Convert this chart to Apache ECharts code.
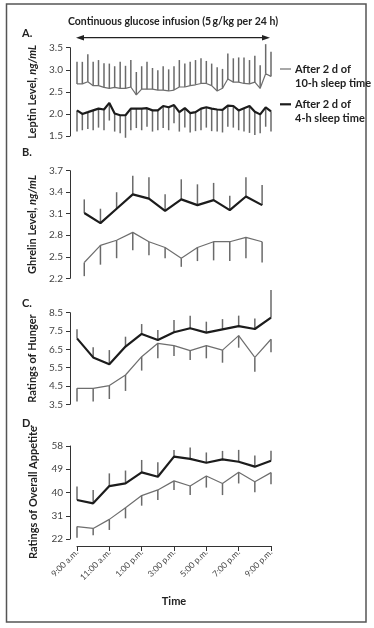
<!DOCTYPE html>
<html><head><meta charset="utf-8">
<script src="https://cdn.jsdelivr.net/npm/echarts@6/dist/echarts.min.js"></script>
<style>html,body{margin:0;padding:0;background:#fff}#c{width:374px;height:628px}</style>
</head><body><div id="c"></div>
<script>
const FONT = "Lato, 'Open Sans', sans-serif";

// ---- Panel A: leptin, sampled every 20 min ----
const hoursA = [9.00,9.33,9.67,10.00,10.33,10.67,11.00,11.33,11.67,12.00,12.33,12.67,13.00,13.33,13.67,14.00,14.33,14.67,15.00,15.33,15.67,16.00,16.33,16.67,17.00,17.33,17.67,18.00,18.33,18.67,19.00,19.33,19.67,20.00,20.33,20.67,21.00];
const leptin10 = [2.68,2.68,2.73,2.64,2.64,2.60,2.58,2.60,2.58,2.58,2.61,2.43,2.56,2.56,2.56,2.54,2.54,2.52,2.54,2.61,2.61,2.64,2.66,2.69,2.69,2.64,2.52,2.58,2.79,2.72,2.72,2.69,2.68,2.72,2.58,2.91,2.85];
const leptin10Upper = [3.18,3.18,3.35,3.18,3.22,3.15,3.14,3.08,3.18,3.09,3.22,2.95,3.08,3.18,3.04,2.99,3.08,3.01,3.08,3.22,3.14,3.18,3.22,3.26,3.20,3.14,3.06,3.02,3.37,3.26,3.28,3.28,3.22,3.32,3.10,3.58,3.41];
const leptin4 = [2.08,2.00,2.04,2.08,2.12,2.10,2.25,2.01,1.97,1.97,2.12,2.12,2.12,2.13,2.08,2.08,2.18,2.15,2.20,2.04,2.13,2.02,2.04,2.12,2.15,2.12,2.10,2.09,2.19,2.18,2.08,2.13,2.18,2.05,1.99,2.15,2.06];
const leptin4Lower = [1.60,1.63,1.66,1.63,1.69,1.63,1.85,1.60,1.56,1.46,1.63,1.68,1.63,1.71,1.60,1.63,1.68,1.63,1.79,1.60,1.69,1.58,1.61,1.63,1.69,1.61,1.60,1.58,1.71,1.69,1.63,1.60,1.57,1.52,1.56,1.71,1.60];
const ticksA = [1.5,2.0,2.5,3.0,3.5];

// ---- Panel B: ghrelin, hourly (half-hour offset) ----
const hoursB = [9.45,10.45,11.45,12.45,13.45,14.45,15.45,16.45,17.45,18.45,19.45,20.45];
const ghrelin4 = [3.11,2.97,3.17,3.37,3.31,3.14,3.30,3.22,3.29,3.15,3.34,3.22];
const ghrelin4Upper = [3.30,3.17,3.40,3.63,3.61,3.37,3.58,3.51,3.53,3.35,3.61,3.50];
const ghrelin10 = [2.42,2.66,2.73,2.84,2.71,2.63,2.48,2.63,2.71,2.71,2.77,2.71];
const ghrelin10Lower = [2.23,2.39,2.48,2.59,2.52,2.48,2.36,2.44,2.45,2.44,2.48,2.42];
const ticksB = [2.2,2.5,2.8,3.1,3.4,3.7];

// ---- Panel C: hunger ratings, hourly ----
const hoursCD = [9,10,11,12,13,14,15,16,17,18,19,20,21];
const hunger4 = [7.10,6.06,5.68,6.65,7.34,7.01,7.43,7.65,7.41,7.59,7.77,7.61,8.23];
const hunger4Upper = [7.59,6.61,6.46,7.19,7.88,7.55,8.10,8.34,8.01,8.15,8.34,8.19,9.74];
const hunger10 = [4.37,4.37,4.52,5.10,6.10,6.83,6.70,6.43,6.70,6.46,7.25,6.06,7.05];
const hunger10Lower = [3.65,3.65,3.79,4.23,5.34,6.01,6.14,5.92,6.01,5.77,6.59,5.28,6.34];
const ticksC = [3.5,4.5,5.5,6.5,7.5,8.5];

// ---- Panel D: overall appetite ratings, hourly ----
const appetite4 = [37.1,35.8,42.5,43.5,47.8,46.1,53.9,53.0,51.5,52.8,51.9,50.0,52.3];
const appetite4Upper = [42.3,41.0,47.4,48.5,52.6,51.7,56.5,57.4,55.5,56.1,56.5,54.3,56.2];
const appetite10 = [26.8,26.1,29.6,34.1,38.8,41.0,44.5,42.5,46.4,43.5,47.8,44.2,47.7];
const appetite10Lower = [22.5,23.5,25.5,30.0,34.9,37.1,41.0,39.0,41.9,39.0,43.5,40.1,43.2];
const ticksD = [22,31,40,49,58];

const timeTicks = [9,11,13,15,17,19,21];
const timeLabels = ["9:00 a.m.","11:00 a.m.","1:00 p.m.","3:00 p.m.","5:00 p.m.","7:00 p.m.","9:00 p.m."];

const GRAY = '#6e6e6e', BLACK = '#1c1c1c', ERR = '#6a6a6a', AX = '#333';

const grids = [
  {left:77, width:194, top:47.7, height:88.3},
  {left:77, width:194, top:170.7, height:107.6},
  {left:77, width:194, top:312.7, height:91.6},
  {left:77, width:194, top:446, height:93}
];

function yAx(i, ticks, name, richName) {
  return {
    type:'value', gridIndex:i, min:ticks[0], max:ticks[ticks.length-1], offset:7,
    name:name, nameLocation:'middle', nameGap:31, nameRotate:90,
    nameTextStyle: richName ? {fontFamily:FONT, fontSize:11, fontWeight:'bold', color:'#222',
      rich:{b:{fontFamily:FONT, fontSize:11, fontWeight:'bold', color:'#222'}, i:{fontFamily:FONT, fontSize:11, fontWeight:'bold', fontStyle:'italic', color:'#222'}}}
      : {fontFamily:FONT, fontSize:11, fontWeight:'bold', color:'#222'},
    axisLine:{show:true, lineStyle:{color:AX, width:1}},
    axisTick:{show:true, length:4, inside:false, customValues:ticks, lineStyle:{color:AX, width:1}},
    axisLabel:{show:true, customValues:ticks, margin:7, fontFamily:FONT, fontSize:10, color:'#444',
      formatter:(v)=> i<3 ? v.toFixed(1) : String(v)},
    splitLine:{show:false}
  };
}
function xAx(i) {
  const show = i===3;
  return {
    type:'value', gridIndex:i, min:9, max:21, show:show, offset:7,
    name: show ? 'Time' : '', nameLocation:'middle', nameGap:50,
    nameTextStyle:{fontFamily:FONT, fontSize:11, fontWeight:'bold', color:'#222'},
    axisLine:{show:show, lineStyle:{color:AX, width:1}},
    axisTick:{show:show, length:5, customValues:timeTicks, lineStyle:{color:AX, width:1}},
    axisLabel:{show:show, customValues:timeTicks, rotate:45, margin:5, fontFamily:FONT, fontSize:8.5, color:'#444',
      formatter:(v)=> timeLabels[timeTicks.indexOf(Math.round(v))] || ''},
    splitLine:{show:false}
  };
}
function lineS(i, xs, ys, color, w) {
  return {type:'line', xAxisIndex:i, yAxisIndex:i, data:xs.map((x,k)=>[x,ys[k]]),
    symbol:'none', showSymbol:false, silent:true, z:3, lineStyle:{color:color, width:w}};
}
function errS(i, xs, ys, ends) {
  return {type:'custom', xAxisIndex:i, yAxisIndex:i, silent:true, z:2, clip:false,
    data: xs.map((x,k)=>[x, ys[k], ends[k]]),
    encode:{x:0, y:[1,2]},
    renderItem:(params, api)=>{
      const p1 = api.coord([api.value(0), api.value(1)]);
      const p2 = api.coord([api.value(0), api.value(2)]);
      return {type:'line', shape:{x1:p1[0], y1:p1[1], x2:p2[0], y2:p2[1]}, style:{stroke:ERR, lineWidth:1.5}};
    }};
}

const chart = echarts.init(document.getElementById('c'), null, {renderer:'canvas'});
const txt = (t, x, y, opts={}) => ({type:'text', x:x, y:y, silent:true, style:Object.assign({text:t, fontFamily:FONT, fontSize:11, fontWeight:'bold', fill:'#222', align:'left', verticalAlign:'middle'}, opts)});

chart.setOption({
  animation:false,
  backgroundColor:'#fff',
  grid:grids,
  xAxis:[xAx(0), xAx(1), xAx(2), xAx(3)],
  yAxis:[
    yAx(0, ticksA, '{b|Leptin Level, }{i|ng/mL}', true),
    yAx(1, ticksB, '{b|Ghrelin Level, }{i|ng/mL}', true),
    yAx(2, ticksC, 'Ratings of Hunger'),
    yAx(3, ticksD, 'Ratings of Overall Appetite')
  ],
  series:[
    errS(0, hoursA, leptin10, leptin10Upper), lineS(0, hoursA, leptin10, GRAY, 1.2),
    errS(0, hoursA, leptin4, leptin4Lower), lineS(0, hoursA, leptin4, BLACK, 2.2),
    errS(1, hoursB, ghrelin4, ghrelin4Upper), lineS(1, hoursB, ghrelin4, BLACK, 2.2),
    errS(1, hoursB, ghrelin10, ghrelin10Lower), lineS(1, hoursB, ghrelin10, GRAY, 1.2),
    errS(2, hoursCD, hunger4, hunger4Upper), lineS(2, hoursCD, hunger4, BLACK, 2.2),
    errS(2, hoursCD, hunger10, hunger10Lower), lineS(2, hoursCD, hunger10, GRAY, 1.2),
    errS(3, hoursCD, appetite4, appetite4Upper), lineS(3, hoursCD, appetite4, BLACK, 2.2),
    errS(3, hoursCD, appetite10, appetite10Lower), lineS(3, hoursCD, appetite10, GRAY, 1.2)
  ],
  graphic:[
    {type:'rect', silent:true, shape:{x:6.5, y:4, width:359.5, height:618}, style:{fill:'none', stroke:'#555', lineWidth:1.5}},
    txt('Continuous glucose infusion (5\u2009g/kg per 24 h)', 173, 22, {align:'center', fontSize:10.5}),
    {type:'line', silent:true, shape:{x1:82, y1:37.7, x2:264, y2:37.7}, style:{stroke:'#222', lineWidth:1.2}},
    {type:'polygon', silent:true, shape:{points:[[76,37.7],[84,34.9],[84,40.5]]}, style:{fill:'#222'}},
    {type:'polygon', silent:true, shape:{points:[[270,37.7],[262,34.9],[262,40.5]]}, style:{fill:'#222'}},
    txt('A.', 22, 33), txt('B.', 22, 152), txt('C.', 22, 303), txt('D.', 22, 423),
    {type:'line', silent:true, shape:{x1:280, y1:69, x2:291, y2:69}, style:{stroke:GRAY, lineWidth:1.2}},
    txt('After 2 d of', 295, 69), txt('10-h sleep time', 295, 83.5),
    {type:'line', silent:true, shape:{x1:280, y1:104.3, x2:291, y2:104.3}, style:{stroke:BLACK, lineWidth:2.2}},
    txt('After 2 d of', 295, 104.3), txt('4-h sleep time', 295, 118.5)
  ]
});
</script></body></html>
